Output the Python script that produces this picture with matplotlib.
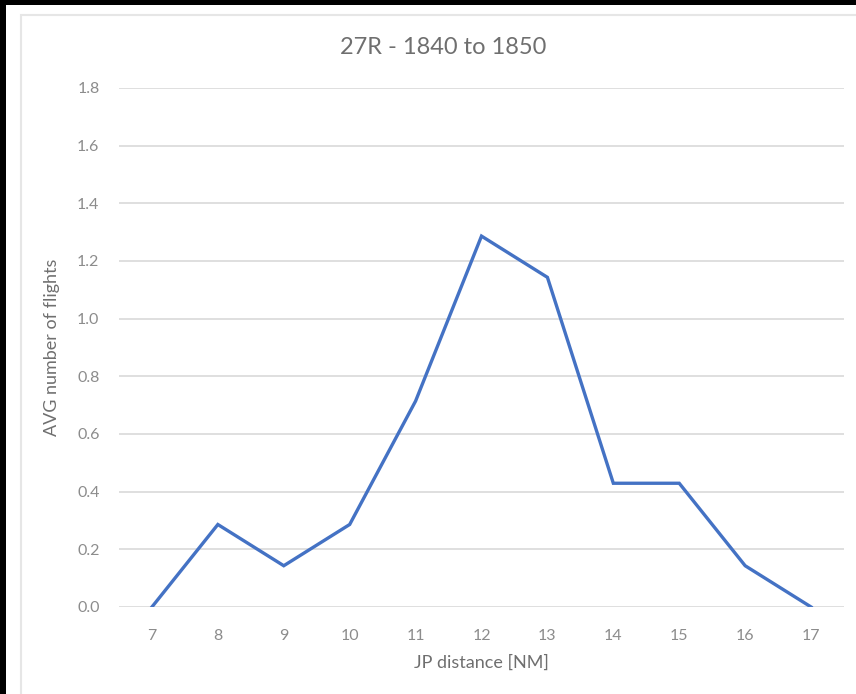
import matplotlib.pyplot as plt
from matplotlib.patches import Rectangle
from matplotlib.ticker import FormatStrFormatter

plt.rcParams['font.family'] = ['Lato', 'DejaVu Sans']

distance = [7, 8, 9, 10, 11, 12, 13, 14, 15, 16, 17]
avg_flights = [0.0, 0.286, 0.143, 0.286, 0.714, 1.286, 1.143, 0.429, 0.429, 0.143, 0.0]
y_ticks = [0.0, 0.2, 0.4, 0.6, 0.8, 1.0, 1.2, 1.4, 1.6, 1.8]

text_grey = '#8c8c8c'
label_grey = '#6f6f6f'

fig = plt.figure(figsize=(8.56, 6.94), dpi=100)
fig.patch.set_facecolor('black')

# white card and its thin frame
fig.patches.append(Rectangle((6 / 856, 0), 1, 1 - 5 / 694, transform=fig.transFigure,
                             facecolor='white', edgecolor='none', zorder=-2))
fig.patches.append(Rectangle((21 / 856, -0.1), 2, 1.1 - 15 / 694, transform=fig.transFigure,
                             facecolor='none', edgecolor='#e6e6e6', linewidth=1.5, zorder=-1))

ax = fig.add_axes([0.139, 0.1254, 0.847, 0.748])
ax.set_facecolor('none')

ax.plot(distance, avg_flights, color='#4472C4', linewidth=2.4, solid_joinstyle='miter', zorder=3)

ax.set_xlim(6.5, 17.5)
ax.set_ylim(0, 1.8)
ax.set_xticks(distance)
ax.set_yticks(y_ticks)
ax.yaxis.set_major_formatter(FormatStrFormatter('%.1f'))
ax.grid(axis='y', color='#d9d9d9', linewidth=1.2, zorder=0)
ax.set_axisbelow(True)
for s in ax.spines.values():
    s.set_visible(False)
ax.tick_params(length=0, labelsize=11.5, labelcolor=text_grey)
ax.tick_params(axis='x', pad=16)
ax.tick_params(axis='y', pad=14)

# title sits centred on the whole card, not on the plot area
fig.text(443 / 856, 1 - 47 / 694, '27R - 1840 to 1850', fontsize=17, color=label_grey,
         ha='center', va='center')
ax.set_xlabel('JP distance [NM]', fontsize=13, color=label_grey, labelpad=8)
ax.set_ylabel('AVG number of flights', fontsize=13, color=label_grey, labelpad=12)

fig.savefig('out.png', dpi=100, facecolor=fig.get_facecolor())
